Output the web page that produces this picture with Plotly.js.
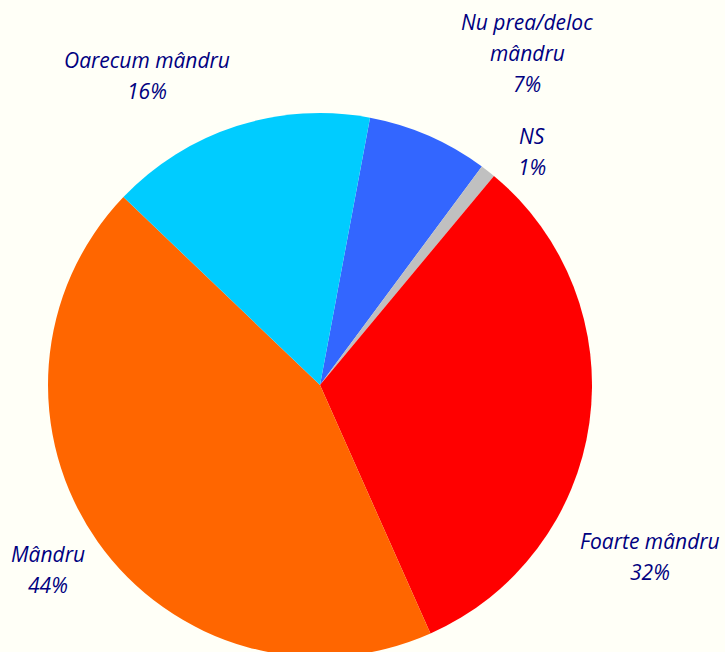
<!DOCTYPE html>
<html>
<head>
<meta charset="utf-8">
<script src="https://cdn.plot.ly/plotly-3.0.1.min.js"></script>
<style>
html,body{margin:0;padding:0;background:#FFFFF7;overflow:hidden;width:725px;height:652px;}
#chart{width:725px;height:700px;}
</style>
</head>
<body>
<div id="chart"></div>
<script>
// Data (order as drawn clockwise starting near 12 o'clock)
const labels = ["Nu prea/deloc<br>mândru", "NS", "Foarte mândru", "Mândru", "Oarecum mândru"];
const values = [7.2, 0.9, 32.3, 43.8, 15.8];
const colors = ["#3366FF", "#C0C0C0", "#FF0000", "#FF6600", "#00CCFF"];

// Label placement (pixel centre x, first baseline y) – layout only
const labelPos = [[527, 30], [532, 144], [650, 549], [48, 562], [147, 68]];
const lineGap = 31;

const W = 725, H = 700;
const total = values.reduce((a, b) => a + b, 0);

const annotations = [];
labels.forEach((lab, i) => {
  const lines = lab.split("<br>").concat([Math.round(values[i] / total * 100) + "%"]);
  lines.forEach((ln, j) => {
    const by = labelPos[i][1] + j * lineGap;
    annotations.push({
      text: ln,
      xref: "paper", yref: "paper",
      x: labelPos[i][0] / W,
      y: (H - by) / H,
      xanchor: "center", yanchor: "bottom",
      showarrow: false,
      yshift: -8,
      font: {family: "Open Sans", size: 21, color: "#000080", style: "italic"}
    });
  });
});

const trace = {
  type: "pie",
  labels: labels,
  values: values,
  sort: false,
  direction: "clockwise",
  rotation: 10.6,
  marker: {colors: colors, line: {width: 0}},
  textinfo: "none",
  hoverinfo: "label+percent",
  domain: {x: [48 / W, 592 / W], y: [(H - 657) / H, (H - 113) / H]}
};

const layout = {
  width: W, height: H,
  margin: {l: 0, r: 0, t: 0, b: 0},
  paper_bgcolor: "#FFFFF7",
  plot_bgcolor: "#FFFFF7",
  showlegend: false,
  annotations: annotations
};

Plotly.newPlot("chart", [trace], layout, {displayModeBar: false, staticPlot: true});
</script>
</body>
</html>
